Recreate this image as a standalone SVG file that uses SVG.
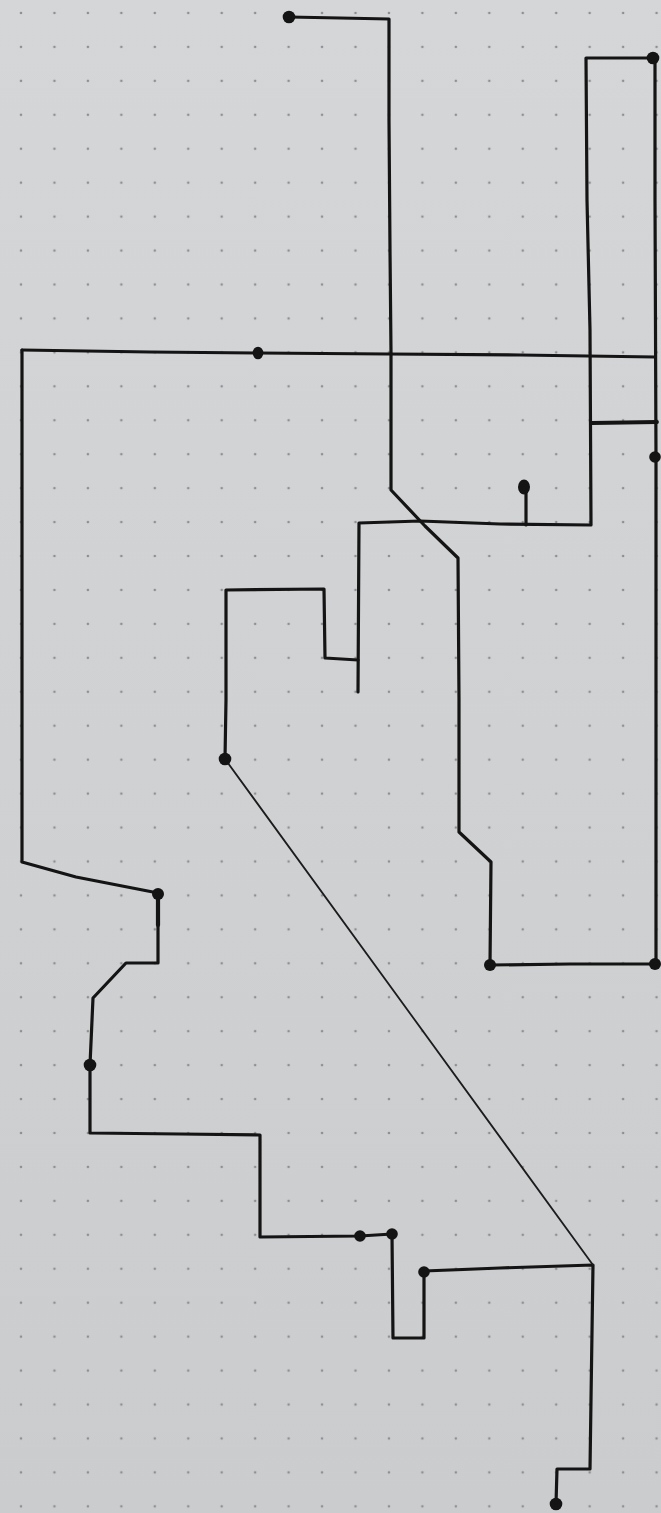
<svg xmlns="http://www.w3.org/2000/svg" width="661" height="1513" viewBox="0 0 661 1513">
<style>
.ln{fill:none;stroke:#141414;stroke-width:3.2;stroke-linecap:round;stroke-linejoin:round}
.thin{fill:none;stroke:#1c1c1c;stroke-width:1.8;stroke-linecap:round}
.dot{fill:#141414}
</style>
<defs>
<linearGradient id="bg" x1="0" y1="0" x2="0" y2="1">
<stop offset="0" stop-color="#d5d6d8"/>
<stop offset="1" stop-color="#cbccce"/>
</linearGradient>
<pattern id="grid" patternUnits="userSpaceOnUse" x="4.3" y="-4" width="33.45" height="33.94">
<circle cx="16.7" cy="17" r="1.3" fill="#8e8f92"/>
</pattern>
</defs>
<rect width="661" height="1513" fill="url(#bg)"/>
<rect width="661" height="1513" fill="url(#grid)"/>
<g id="connectors">
<path class="ln" d="M289,17 L340,18 L389,19 L389,120 L390,250 L391,352 L391,490 L425,526 L458,558 L459,700 L459,832 L491,862 L490,965 L570,964 L655,964"/>
<path class="ln" d="M653,58 L586,58 L587,200 L590,330 L591,525 L500,524 L420,521 L359,523 L358,692"/>
<path class="ln" d="M526,525 L526,488"/>
<path class="ln" style="stroke-width:3.8" d="M592,423 L657,422"/>
<path class="ln" d="M655,58 L655,200 L656,457 L656,965"/>
<path class="ln" d="M22,350 L150,352 L258,353 L388,354 L520,355 L655,357"/>
<path class="ln" d="M22,350 L22,600 L22,862 L76,877 L158,893 L158,963 L126,963 L93,998 L90,1065 L90,1133 L180,1134 L260,1135 L260,1237 L360,1236 L392,1234 L393,1338 L424,1338 L424,1271 L500,1268 L593,1265 L591,1400 L590,1469 L557,1469 L556,1504"/>
<path class="ln" style="stroke-width:4.2" d="M158,894 L158,925"/>
<path class="ln" d="M358,660 L325,658 L324,589 L226,590 L226,700 L225,759"/>
<path class="thin" d="M225,759 L593,1265"/>
</g>
<g id="dots">
<g id="d1"><circle class="dot" cx="289" cy="17" r="6.3"/></g>
<g id="d2"><circle class="dot" cx="653" cy="58" r="6.3"/></g>
<g id="d3"><ellipse class="dot" cx="258" cy="353" rx="5.3" ry="6.3"/></g>
<g id="d4"><circle class="dot" cx="655" cy="457" r="5.8"/></g>
<g id="d5"><ellipse class="dot" cx="524" cy="487" rx="6" ry="7.5"/></g>
<g id="d6"><circle class="dot" cx="225" cy="759" r="6.3"/></g>
<g id="d7"><circle class="dot" cx="158" cy="894" r="6"/></g>
<g id="d8"><circle class="dot" cx="490" cy="965" r="6"/></g>
<g id="d9"><circle class="dot" cx="655" cy="964" r="6"/></g>
<g id="d10"><circle class="dot" cx="90" cy="1065" r="6.3"/></g>
<g id="d11"><circle class="dot" cx="360" cy="1236" r="5.8"/></g>
<g id="d12"><circle class="dot" cx="392" cy="1234" r="5.8"/></g>
<g id="d13"><circle class="dot" cx="424" cy="1272" r="5.8"/></g>
<g id="d14"><circle class="dot" cx="556" cy="1504" r="6.3"/></g>
</g>
</svg>
